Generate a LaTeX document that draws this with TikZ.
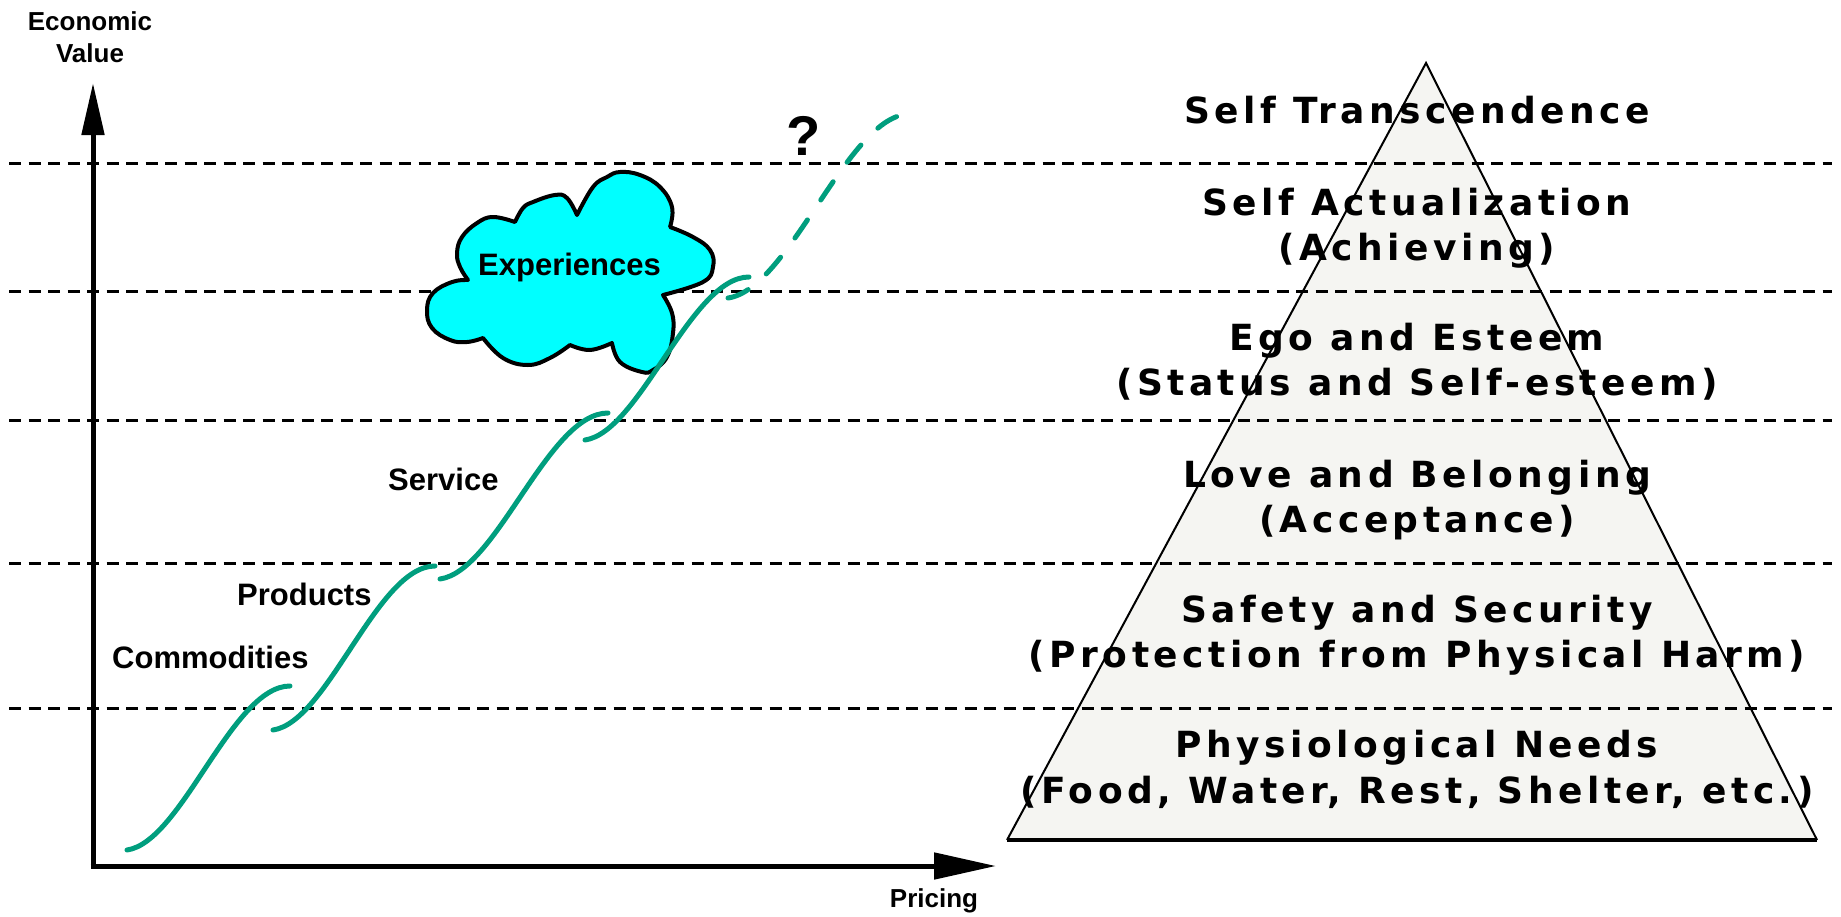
\documentclass[tikz,border=0pt]{standalone}
\usepackage{fontspec}
\setmainfont{Liberation Sans}
\newfontfamily\pyrfont[LetterSpace=12.5]{DejaVu Sans}
\usetikzlibrary{arrows.meta}
\definecolor{curvegreen}{RGB}{0,158,126}
\definecolor{cloudcyan}{RGB}{0,255,255}
\definecolor{pyrfill}{RGB}{245,245,242}
\begin{document}
\begin{tikzpicture}[x=1pt,y=-1pt,
  guide/.style={line width=3pt, dash pattern=on 12pt off 7.5pt},
  axisline/.style={line width=5pt},
  scurve/.style={curvegreen, line width=5pt, line cap=round, line join=round},
  dcurve/.style={scurve, dash pattern=on 22pt off 24pt},
  cloudshape/.style={fill=cloudcyan, draw=black, line width=4pt, line join=round},
  lbl/.style={font=\bfseries\fontsize{31}{37}\selectfont, inner sep=0pt},
  axlbl/.style={font=\bfseries\fontsize{26}{32}\selectfont, inner sep=0pt},
  pyrtext/.style={font=\pyrfont\bfseries\fontsize{36}{45}\selectfont, inner sep=0pt, anchor=base}]
\useasboundingbox (0,0) rectangle (1841,916);

% pyramid fill
\coordinate (apex) at (1426,63);
\coordinate (bl) at (1007,840);
\coordinate (br) at (1817,840);
\fill[pyrfill] (apex) -- (br) -- (bl) -- cycle;

% dashed guide lines
\foreach \yy/\nm in {163/g1,291/g2,420/g3,563/g4,708/g5}{
  \coordinate (\nm a) at (9,\yy);
  \coordinate (\nm b) at (1832,\yy);
  \draw[guide] (\nm a) -- (\nm b);
}

% pyramid outline
\draw[line width=2pt, line join=miter] (bl) -- (apex) -- (br);
\draw[line width=3.5pt] (bl) -- (br);

% pyramid texts
\node[pyrtext] (t1) at (1417,123) {Self Transcendence};
\node[pyrtext] (t2) at (1417,215) {Self Actualization};
\node[pyrtext] (t2b) at (1417,260) {(Achieving)};
\node[pyrtext] (t3) at (1417,350) {Ego and Esteem};
\node[pyrtext] (t3b) at (1417,395) {(Status and Self-esteem)};
\node[pyrtext] (t4) at (1417,487) {Love and Belonging};
\node[pyrtext] (t4b) at (1417,532) {(Acceptance)};
\node[pyrtext] (t5) at (1417,622) {Safety and Security};
\node[pyrtext] (t5b) at (1417,667) {(Protection from Physical Harm)};
\node[pyrtext] (t6) at (1417,757) {Physiological Needs};
\node[pyrtext] (t6b) at (1417,803) {(Food, Water, Rest, Shelter, etc.)};

% cloud
\draw[cloudshape]
  plot[smooth,tension=0.7] coordinates {(468,280) (460,267) (457,253) (462,237) (477,223) (493,217) (515,222)}
  -- plot[smooth,tension=0.7] coordinates {(515,222) (523,208) (533,202) (555,195) (567,198) (577,215)}
  -- plot[smooth,tension=0.7] coordinates {(577,215) (593,187) (607,177) (620,172) (640,175) (660,187) (672,207) (670,227)}
  -- plot[smooth,tension=0.7] coordinates {(670,227) (693,237) (710,250) (713,267) (703,282) (663,295)}
  -- plot[smooth,tension=0.7] coordinates {(663,295) (672,313) (673,333) (667,357) (653,370) (642,372) (620,362) (612,343)}
  -- plot[smooth,tension=0.7] coordinates {(612,343) (590,350) (570,345)}
  -- plot[smooth,tension=0.7] coordinates {(570,345) (550,358) (528,365) (503,358) (483,338)}
  -- plot[smooth,tension=0.7] coordinates {(483,338) (467,342) (450,340) (432,328) (427,310) (433,293) (452,282) (468,280)}
  -- cycle;
\node[lbl, anchor=base] (exp) at (569.5,275) {Experiences};

% value curves
\draw[scurve] (127,850) .. controls (182,842) and (232,686) .. (290,686);
\draw[scurve] (273,730) .. controls (328,722) and (377,566) .. (435,566);
\draw[scurve] (440,579) .. controls (497,571) and (548,413) .. (608,413);
\draw[scurve] (585,440) .. controls (640,432) and (691,277) .. (749,277);
\draw[dcurve] (728,298) .. controls (790,289) and (848,114) .. (910,114);

% labels
\node[lbl, anchor=base west] (comm) at (112,668) {Commodities};
\node[lbl, anchor=base west] (prod) at (237,605) {Products};
\node[lbl, anchor=base west] (serv) at (388,490) {Service};
\node[font=\bfseries\fontsize{56}{60}\selectfont, inner sep=0pt, anchor=base] (q) at (804,155) {?};

% axes
\coordinate (origin) at (93,866);
\coordinate (ytip) at (93,83);
\coordinate (xtip) at (996,866);
\draw[axisline, -{Triangle[length=52pt,width=22pt]}] ([yshift=2.5pt]origin) -- (ytip);
\draw[axisline, -{Triangle[length=62pt,width=26pt]}] ([xshift=-2.5pt]origin) -- (xtip);
\node[axlbl, anchor=base] (ev1) at (90,30) {Economic};
\node[axlbl, anchor=base] (ev2) at (90,62) {Value};
\node[axlbl, anchor=base] (pr) at (934,907) {Pricing};
\end{tikzpicture}
\end{document}
